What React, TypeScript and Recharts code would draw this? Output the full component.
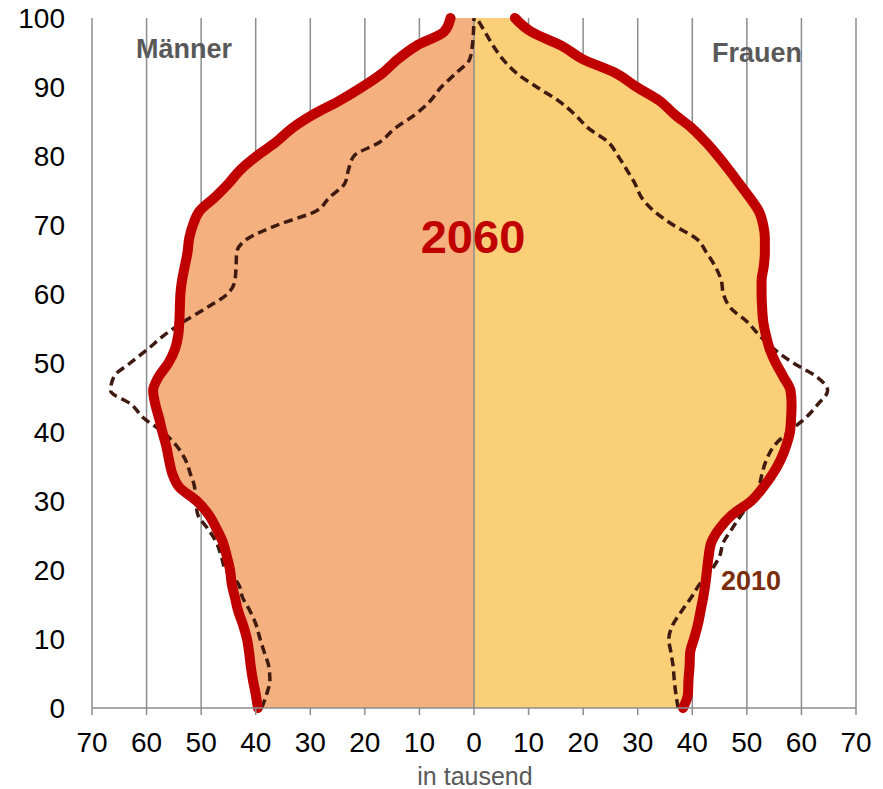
import React from 'react';
import {
  ComposedChart,
  Area,
  Line,
  XAxis,
  YAxis,
  CartesianGrid,
  ReferenceLine,
} from 'recharts';

// Alter in Jahren (alle 2 Jahre)
const ages = [
  0, 2, 4, 6, 8, 10, 12, 14, 16, 18, 20, 22, 24, 26, 28, 30, 32, 34, 36, 38, 40,
  42, 44, 46, 48, 50, 52, 54, 56, 58, 60, 62, 64, 66, 68, 70, 72, 74, 76, 78, 80,
  82, 84, 86, 88, 90, 92, 94, 96, 98, 100,
];

// in tausend
const men2060 = [
  39.6, 40.0, 40.5, 40.9, 41.2, 41.6, 42.3, 43.2, 43.8, 44.4, 44.7, 45.3, 46.0,
  47.2, 48.6, 50.8, 54.0, 55.3, 55.9, 56.4, 57.1, 57.7, 58.4, 58.8, 57.8, 56.0,
  54.8, 54.2, 54.0, 53.9, 53.8, 53.5, 53.0, 52.5, 52.2, 51.5, 50.3, 47.5, 45.0,
  42.8, 39.8, 36.3, 33.4, 29.5, 24.7, 20.5, 16.8, 14.0, 10.5, 5.5, 4.3,
];

const women2060 = [
  38.3, 39.2, 39.3, 39.5, 39.6, 40.3, 41.0, 41.5, 42.0, 42.4, 42.7, 43.0, 43.5,
  45.0, 47.3, 50.8, 53.0, 54.8, 56.2, 57.2, 57.9, 58.1, 58.2, 58.0, 56.7, 55.3,
  54.2, 53.5, 53.0, 52.8, 52.7, 52.7, 53.1, 53.3, 53.3, 53.0, 52.2, 50.5, 48.6,
  46.7, 44.7, 42.5, 40.0, 36.8, 34.0, 29.8, 26.0, 20.0, 16.0, 10.5, 7.5,
];

const men2010 = [
  38.9, 38.0, 37.4, 37.6, 38.4, 39.2, 39.9, 41.0, 42.4, 43.2, 45.5, 46.3, 47.2,
  48.8, 50.6, 51.0, 51.2, 52.0, 52.9, 54.5, 57.0, 60.5, 62.8, 66.6, 66.0, 63.0,
  59.8, 56.8, 53.2, 49.0, 45.2, 43.8, 43.6, 43.5, 41.5, 36.0, 29.0, 26.5, 23.7,
  23.0, 22.0, 17.3, 14.5, 10.8, 8.0, 6.0, 3.3, 0.8, 0.3, 0.1, 0,
];

const women2010 = [
  37.4, 37.0, 36.7, 36.5, 36.1, 35.7, 36.4, 38.0, 39.8, 41.4, 43.5, 45.0, 45.7,
  47.3, 49.0, 51.0, 52.2, 52.8, 53.6, 55.0, 57.6, 60.7, 63.0, 64.8, 62.8, 58.5,
  55.0, 52.3, 50.0, 47.0, 45.7, 45.3, 44.2, 42.6, 40.8, 36.5, 33.0, 30.7, 29.5,
  28.0, 26.4, 24.6, 21.0, 18.5, 15.5, 11.5, 7.8, 5.3, 3.5, 2.0, 0.5,
];

const xTicks = [-70, -60, -50, -40, -30, -20, -10, 0, 10, 20, 30, 40, 50, 60, 70];
const yTicks = [0, 10, 20, 30, 40, 50, 60, 70, 80, 90, 100];

const data = ages.map((age, i) => ({
  age,
  m60: -men2060[i],
  w60: women2060[i],
  m10: -men2010[i],
  w10: women2010[i],
}));

const FONT = '"Liberation Sans", Arial, sans-serif';
const RED = '#C00000';
const DASH = '#3E1A10';
const W = 883;
const H = 789;

export default function App() {
  return (
    <div style={{ position: 'absolute', left: 0, top: 0, width: W, height: H, fontFamily: FONT }}>
      <ComposedChart
        width={W}
        height={H}
        data={data}
        layout="vertical"
        margin={{ top: 18, right: 27, bottom: 51, left: 0 }}
      >
        <CartesianGrid horizontal={false} stroke="#8C8C8C" strokeWidth={1.5} />
        <XAxis
          type="number"
          domain={[-70, 70]}
          ticks={xTicks}
          interval={0}
          height={30}
          tickFormatter={(v: number) => String(Math.abs(v))}
          stroke="#8C8C8C"
          strokeWidth={1.5}
          tickSize={7}
          tickMargin={17}
          tick={{ fontSize: 28, fill: '#000', fontFamily: FONT }}
        />
        <YAxis
          type="number"
          dataKey="age"
          domain={[0, 100]}
          ticks={yTicks}
          interval={0}
          reversed
          width={92}
          axisLine={false}
          tickLine={false}
          tickSize={0}
          tickMargin={27}
          tick={{ fontSize: 28, fill: '#000', fontFamily: FONT }}
        />
        <Area
          type="monotone"
          dataKey="m60"
          baseValue={0}
          fill="#F4B17F"
          fillOpacity={1}
          stroke="none"
          isAnimationActive={false}
        />
        <Area
          type="monotone"
          dataKey="w60"
          baseValue={0}
          fill="#FBCE78"
          fillOpacity={1}
          stroke="none"
          isAnimationActive={false}
        />
        <ReferenceLine x={0} stroke="#8C8C8C" strokeWidth={1.5} />
        <Line
          type="monotone"
          dataKey="m10"
          stroke={DASH}
          strokeWidth={3.5}
          strokeDasharray="9 5"
          dot={false}
          isAnimationActive={false}
        />
        <Line
          type="monotone"
          dataKey="w10"
          stroke={DASH}
          strokeWidth={3.5}
          strokeDasharray="9 5"
          dot={false}
          isAnimationActive={false}
        />
        <Line
          type="monotone"
          dataKey="m60"
          stroke={RED}
          strokeWidth={10}
          strokeLinejoin="round"
          strokeLinecap="round"
          dot={false}
          isAnimationActive={false}
        />
        <Line
          type="monotone"
          dataKey="w60"
          stroke={RED}
          strokeWidth={10}
          strokeLinejoin="round"
          strokeLinecap="round"
          dot={false}
          isAnimationActive={false}
        />
      </ComposedChart>
      {/* labels on top of the chart layers */}
      <svg
        width={W}
        height={H}
        style={{ position: 'absolute', left: 0, top: 0, pointerEvents: 'none' }}
      >
        <text x={136} y={58} fontSize={27} fontWeight="bold" fill="#595959" fontFamily={FONT}>
          Männer
        </text>
        <text x={712} y={62} fontSize={27} fontWeight="bold" fill="#595959" fontFamily={FONT}>
          Frauen
        </text>
        <text x={473} y={253} textAnchor="middle" fontSize={47} fontWeight="bold" fill={RED} fontFamily={FONT}>
          2060
        </text>
        <text x={721} y={590} fontSize={27} fontWeight="bold" fill="#7A2E0E" fontFamily={FONT}>
          2010
        </text>
        <text x={475} y={785} textAnchor="middle" fontSize={25} fill="#595959" fontFamily={FONT}>
          in tausend
        </text>
      </svg>
    </div>
  );
}
